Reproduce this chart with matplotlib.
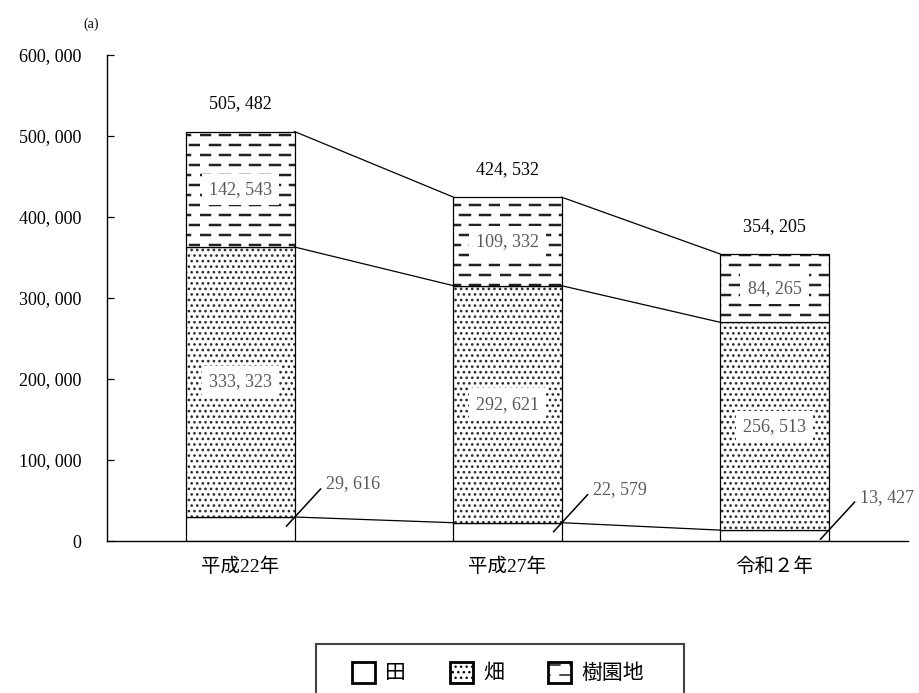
import numpy as np
import matplotlib
matplotlib.use("Agg")
import matplotlib.pyplot as plt
import matplotlib.hatch as mhatch
from matplotlib.path import Path
from matplotlib.patches import Patch, Rectangle

plt.rcParams['font.family'] = ['Liberation Serif', 'Noto Sans CJK JP']

# area by land type (a)
categories = ['平成22年', '平成27年', '令和２年']
rice = [29616, 22579, 13427]        # 田
field = [333323, 292621, 256513]    # 畑
orchard = [142543, 109332, 84265]   # 樹園地
legend_labels = ['田', '畑', '樹園地']
yticks = [0, 100000, 200000, 300000, 400000, 500000, 600000]


class DashRows(mhatch.HatchPatternBase):
    """'-' hatch drawn as staggered short dashes instead of full lines."""
    rows = 10
    dashes = 5

    def __init__(self, hatch, density):
        self.num_vertices = self.rows * self.dashes * 2 if '-' in hatch else 0

    def set_vertices_and_codes(self, vertices, codes):
        step = 1.0 / self.rows
        period = 1.0 / self.dashes
        k = 0
        for r in range(self.rows):
            y = (r + 0.5) * step
            shift = (r % 2) * period / 2
            for d in range(self.dashes):
                x0 = d * period + shift
                vertices[k] = (x0, y)
                vertices[k + 1] = (x0 + period / 2, y)
                codes[k] = Path.MOVETO
                codes[k + 1] = Path.LINETO
                k += 2


mhatch._hatch_types[mhatch._hatch_types.index(mhatch.HorizontalHatch)] = DashRows


def fmt(v):
    return f"{v:,}".replace(",", ", ")


def hatch_lw(p, lw):
    if hasattr(p, 'set_hatch_linewidth'):
        p.set_hatch_linewidth(lw)


fig = plt.figure(figsize=(9.19, 6.93), dpi=100)
ax = fig.add_axes([107 / 919, 1 - 541 / 693, 801 / 919, 486 / 693])

x = np.arange(len(categories))
w = 0.405
rice = np.array(rice)
field = np.array(field)
orchard = np.array(orchard)
lvl1 = rice
lvl2 = rice + field
total = lvl2 + orchard

b1 = ax.bar(x, rice, w, color='white', edgecolor='black', linewidth=0.9)
b2 = ax.bar(x, field, w, bottom=lvl1, color='white', edgecolor='black',
            linewidth=0.9, hatch='...')
b3 = ax.bar(x, orchard, w, bottom=lvl2, color='white', edgecolor='black',
            linewidth=0.9, hatch='-')
for p in b2:
    p._hatch_color = matplotlib.colors.to_rgba('#2a2a2a')
    hatch_lw(p, 1.1)
for p in b3:
    p._hatch_color = matplotlib.colors.to_rgba('#222222')
    hatch_lw(p, 1.8)

ax.set_xlim(-0.5, 2.5)
ax.set_ylim(0, 600000)

# lines joining the layer boundaries of neighbouring bars
for lv in (lvl1, lvl2, total):
    for i in range(len(x) - 1):
        ax.plot([x[i] + w / 2, x[i + 1] - w / 2], [lv[i], lv[i + 1]],
                color='black', lw=0.9)

seg_style = dict(ha='center', va='center', fontsize=13, color='#595959',
                 bbox=dict(boxstyle='square,pad=0.4', fc='white', ec='none'))
for i in range(len(x)):
    ax.text(x[i], lvl1[i] + field[i] / 2, fmt(field[i]), **seg_style)
    ax.text(x[i], lvl2[i] + orchard[i] / 2, fmt(orchard[i]), **seg_style)
    ax.annotate(fmt(total[i]), (x[i], total[i]), xytext=(0, 28),
                textcoords='offset pixels', ha='center', va='center',
                fontsize=13, color='black')
    # leader line to the 田 value
    corner = ax.transData.transform((x[i] + w / 2, rice[i]))
    p0 = ax.transData.inverted().transform(corner + np.array([-8, -9]))
    p1 = ax.transData.inverted().transform(corner + np.array([26, 28]))
    ax.plot([p0[0], p1[0]], [p0[1], p1[1]], color='black', lw=1.1)
    ax.annotate(fmt(rice[i]), (x[i] + w / 2, rice[i]), xytext=(31, 33),
                textcoords='offset pixels', ha='left', va='center',
                fontsize=13, color='#595959')

for s in ('top', 'right'):
    ax.spines[s].set_visible(False)
for s in ('left', 'bottom'):
    ax.spines[s].set_linewidth(1.0)

ax.set_yticks(yticks)
ax.set_yticklabels([fmt(v) for v in yticks])
ax.tick_params(axis='y', direction='in', length=5, width=0.9, pad=18.5,
               labelsize=13)
ax.set_xticks(x)
ax.set_xticklabels(categories)
ax.tick_params(axis='x', length=0, pad=12, labelsize=14)

fig.text(91 / 919, 1 - 24 / 693, '(a)', ha='center', va='center', fontsize=10)

handles = [
    Patch(facecolor='white', edgecolor='black', linewidth=2),
    Patch(facecolor='white', edgecolor='black', linewidth=2, hatch='...'),
    Patch(facecolor='white', edgecolor='black', linewidth=2, hatch='-'),
]
leg = fig.legend(handles, legend_labels, loc='center', ncol=3, frameon=False,
                 bbox_to_anchor=(498 / 919, 1 - 673 / 693), fontsize=15,
                 handlelength=1.1, handleheight=1.2, handletextpad=0.5,
                 columnspacing=2.1, borderpad=0)
fig.patches.append(Rectangle((316 / 919, -0.05), 368 / 919, 0.05 + 1 - 644 / 693,
                             transform=fig.transFigure, fill=False,
                             edgecolor='#444444', linewidth=1.5))

fig.savefig('out.png', dpi=100)
